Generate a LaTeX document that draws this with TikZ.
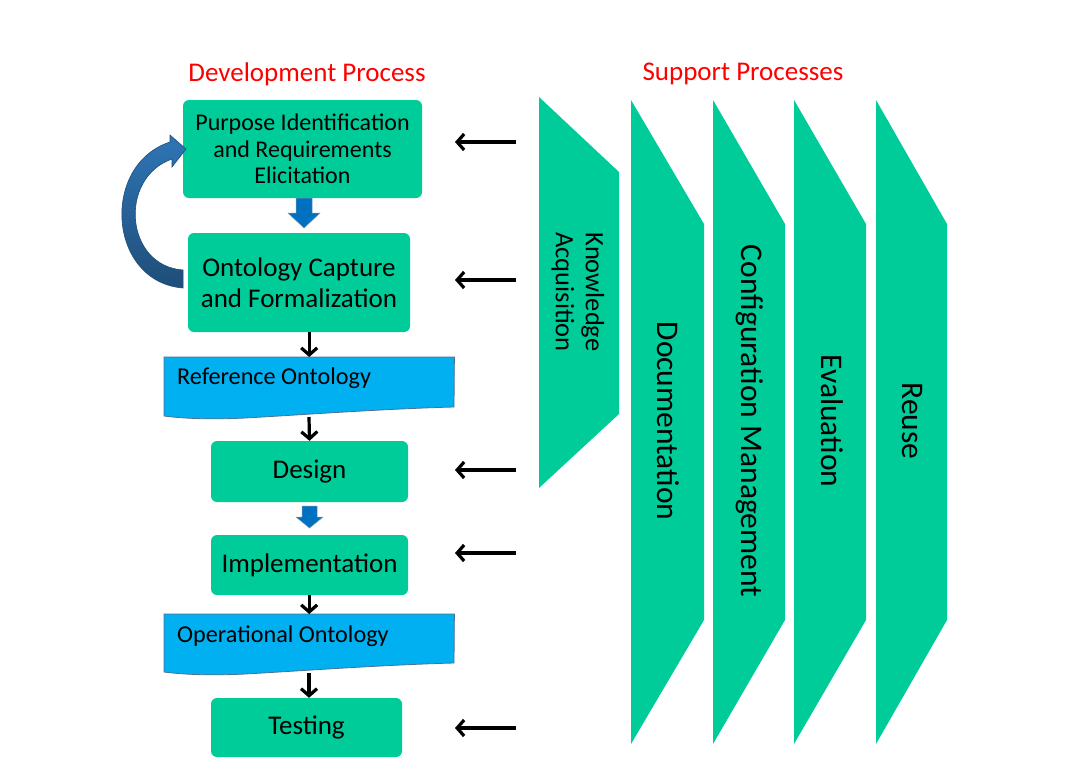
\documentclass[tikz,border=0pt]{standalone}
\usepackage{fontspec}
\setmainfont{Carlito}
\usetikzlibrary{arrows.meta,calc}
\definecolor{boxgreen}{HTML}{00CC99}
\definecolor{docblue}{HTML}{00B0F0}
\definecolor{arrblue}{HTML}{0070C0}
\definecolor{darkblue}{HTML}{1F4E79}
\definecolor{lightblue}{HTML}{2E75B6}
\definecolor{titlered}{HTML}{FF0000}
\tikzset{
 proc/.style={fill=boxgreen, rounded corners=6pt, inner sep=0pt, align=center, text=black},
 arr/.style={line width=3.2pt, -{Straight Barb[length=7pt,width=16pt]}},
 supp/.style={fill=boxgreen},
 supptext/.style={rotate=-90, font=\fontsize{31.5}{37}\selectfont, inner sep=0pt, align=center},
 doc/.style={fill=docblue, draw=darkblue!80, line width=0.8pt},
 doctext/.style={anchor=west, inner sep=0pt, font=\fontsize{24.2}{28}\selectfont},
 docframe/.style={inner sep=0pt, minimum width=290pt, minimum height=50pt, anchor=north west},
 blockarr/.style={fill=arrblue, draw=darkblue!60, line width=0.5pt},
 title/.style={text=titlered, font=\fontsize{27}{32}\selectfont},
 boxfont/.style={font=\fontsize{27}{31}\selectfont},
}
\begin{document}
\begin{tikzpicture}[x=1pt,y=-1pt]
\path[fill=white,use as bounding box] (0,0) rectangle (1086,768);

% titles
\node[title] (devt) at (307,74) {Development Process};
\node[title] (supt) at (743,74) {Support Processes};

% development process boxes
\node[proc, minimum width=239pt, minimum height=98pt, font=\fontsize{24}{26.5}\selectfont] (purp) at (302.5,149) {Purpose Identification\\and Requirements\\Elicitation};
\node[proc, minimum width=222pt, minimum height=99pt, font=\fontsize{27}{30.5}\selectfont] (ont) at (299,282.5) {Ontology Capture\\and Formalization};
\node[proc, boxfont, minimum width=197pt, minimum height=61pt] (des) at (309.5,471.5) {Design};
\node[proc, boxfont, minimum width=197pt, minimum height=60pt] (impl) at (309.5,565) {Implementation};
\node[proc, boxfont, minimum width=191pt, minimum height=59pt] (test) at (306.5,727.5) {Testing};

% documents
\node[docframe] (ref) at (164,357) {};
\path[doc] (ref.north west) -- (ref.north east) -- (454,407)
  .. controls (380,409) and (300,415) .. (245,418)
  .. controls (205,420) and (180,418) .. (164,416) -- cycle;
\node[doctext] (reft) at (177,378) {Reference Ontology};
\coordinate (refbot) at (309,417);

\node[docframe] (op) at (164,614) {};
\path[doc] (op.north west) -- (op.north east) -- (454,663)
  .. controls (380,665) and (300,671) .. (245,674)
  .. controls (205,676) and (180,674) .. (164,672) -- cycle;
\node[doctext] (opt) at (177,636) {Operational Ontology};
\coordinate (opbot) at (309,673);

% blue block arrows
\path[blockarr] (296,198) -- (312,198) -- (312,213) -- (320,213) -- (304,228) -- (288,213) -- (296,213) -- cycle;
\path[blockarr] (302,506) -- (317,506) -- (317,517) -- (323,517) -- (309.5,528) -- (296,517) -- (302,517) -- cycle;

% curved feedback arrow
\shade[top color=lightblue, bottom color=darkblue, draw=darkblue, line width=0.6pt]
  (183,288) .. controls (108,282) and (100,165) .. (170,142)
  -- (170,135) -- (186,149) -- (172,167) -- (172,159)
  .. controls (118,178) and (125,266) .. (183,270) -- cycle;

% black connectors
\draw[arr] (ont.south -| ref.north) -- (ref.north);
\draw[arr] (refbot) -- (des.north);
\draw[arr] (impl.south -| op.north) -- (op.north);
\draw[arr] (opbot) -- (opbot |- test.north);

% support processes
\path[supp] (539,97) -- (619,172) -- (619,414) -- (539,488) -- cycle;
\foreach \l/\r in {631/704, 713/785, 794/866, 876/947}{
  \path[supp] (\l,100) -- (\r,224) -- (\r,620) -- (\l,744) -- cycle;
}
\node[supptext, font=\fontsize{26.5}{30}\selectfont] (ka) at (578,292) {Knowledge\\Acquisition};
\node[supptext] (docu) at (668,421) {Documentation};
\node[supptext] (conf) at (750,421) {Configuration Management};
\node[supptext] (eval) at (832,421) {Evaluation};
\node[supptext] (reuse) at (912,421) {Reuse};

% horizontal arrows from support side
\foreach \y/\n in {142/a, 280/b, 470/c, 553/d, 728/e}{
  \coordinate (s\n) at (516,\y);
  \coordinate (t\n) at (455,\y);
  \draw[arr] (s\n) -- (t\n);
}
\end{tikzpicture}
\end{document}
